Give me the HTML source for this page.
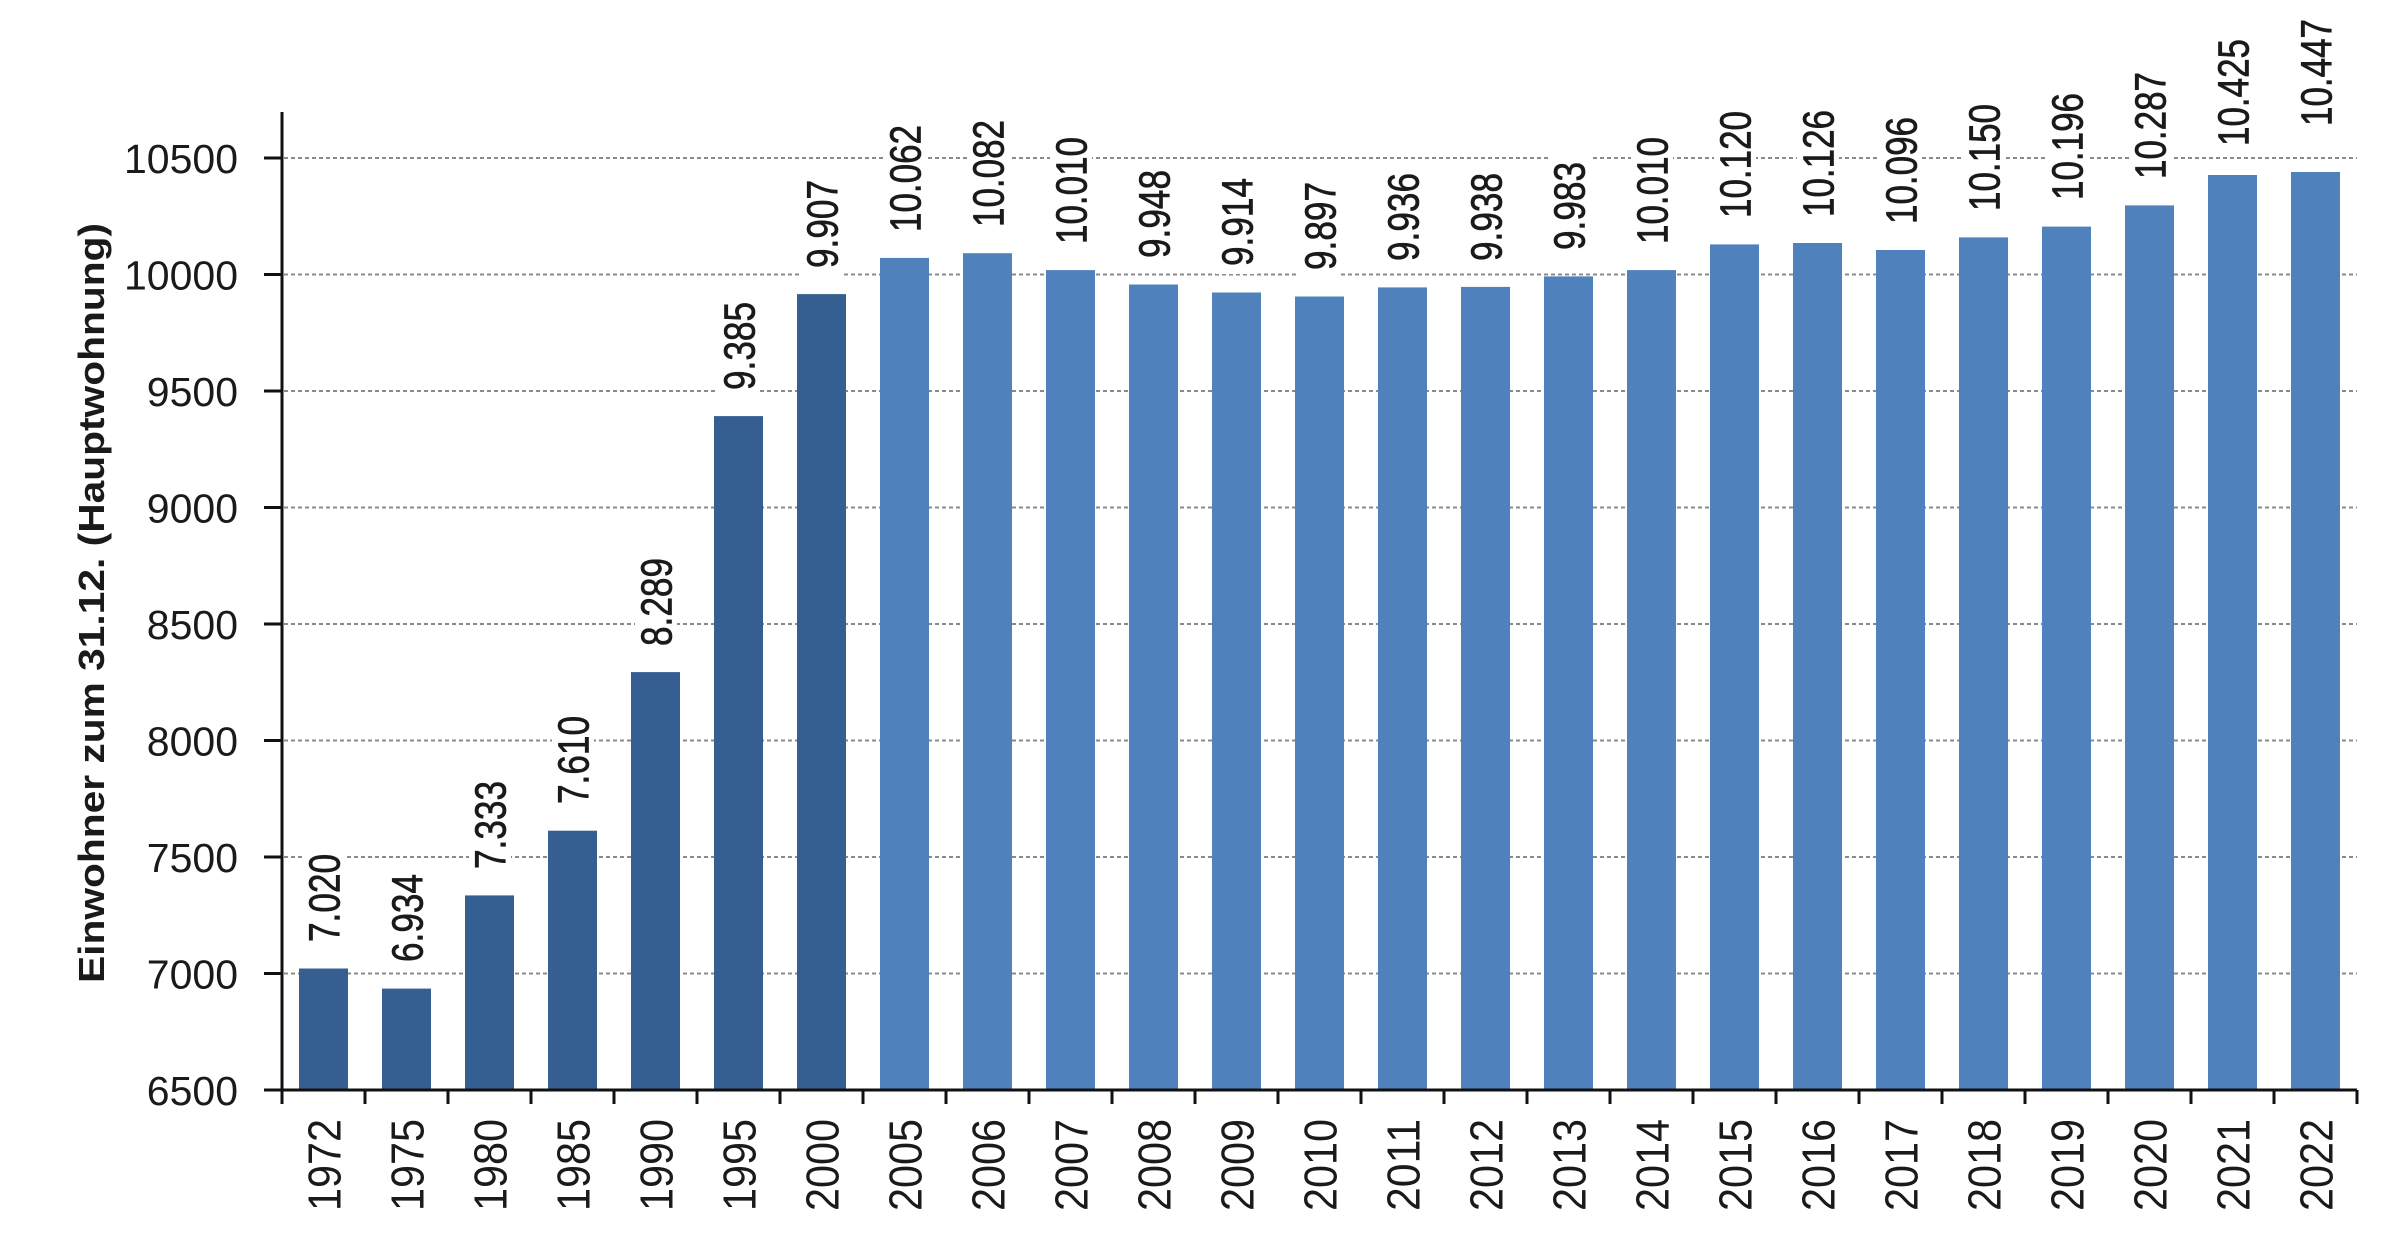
<!DOCTYPE html>
<html><head><meta charset="utf-8"><style>
html,body{margin:0;padding:0;background:#fff;}
svg{display:block;}
text{font-family:"Liberation Sans",Arial,sans-serif;fill:#1a1a1a;}
</style></head><body>
<svg width="2400" height="1244" viewBox="0 0 2400 1244" xmlns="http://www.w3.org/2000/svg">
<rect width="2400" height="1244" fill="#fff"/>
<g stroke="#8a8a8a" stroke-width="2" stroke-dasharray="4 3">
<line x1="284" y1="158" x2="2357" y2="158"/>
<line x1="284" y1="274.5" x2="2357" y2="274.5"/>
<line x1="284" y1="391" x2="2357" y2="391"/>
<line x1="284" y1="507.5" x2="2357" y2="507.5"/>
<line x1="284" y1="624" x2="2357" y2="624"/>
<line x1="284" y1="740.5" x2="2357" y2="740.5"/>
<line x1="284" y1="857" x2="2357" y2="857"/>
<line x1="284" y1="973.5" x2="2357" y2="973.5"/>
</g>
<g fill="#365f91">
<rect x="299" y="968.5" width="49" height="121.5"/>
<rect x="382" y="988.6" width="49" height="101.4"/>
<rect x="465" y="895.4" width="49" height="194.6"/>
<rect x="548" y="830.7" width="49" height="259.3"/>
<rect x="631" y="672.1" width="49" height="417.9"/>
<rect x="714" y="416.1" width="49" height="673.9"/>
<rect x="797" y="294.1" width="49" height="795.9"/>
</g>
<g fill="#4f81bd">
<rect x="880" y="257.9" width="49" height="832.1"/>
<rect x="963" y="253.2" width="49" height="836.8"/>
<rect x="1046" y="270.1" width="49" height="819.9"/>
<rect x="1129" y="284.5" width="49" height="805.5"/>
<rect x="1212" y="292.5" width="49" height="797.5"/>
<rect x="1295" y="296.5" width="49" height="793.5"/>
<rect x="1378" y="287.4" width="49" height="802.6"/>
<rect x="1461" y="286.9" width="49" height="803.1"/>
<rect x="1544" y="276.4" width="49" height="813.6"/>
<rect x="1627" y="270.1" width="49" height="819.9"/>
<rect x="1710" y="244.4" width="49" height="845.6"/>
<rect x="1793" y="243.0" width="49" height="847.0"/>
<rect x="1876" y="250.0" width="49" height="840.0"/>
<rect x="1959" y="237.4" width="49" height="852.6"/>
<rect x="2042" y="226.6" width="49" height="863.4"/>
<rect x="2125" y="205.4" width="49" height="884.6"/>
<rect x="2208" y="175" width="49" height="915"/>
<rect x="2291" y="172" width="49" height="918"/>
</g>
<g fill="#fff">
<rect x="303" y="846" width="42" height="104"/>
<rect x="386" y="866" width="42" height="104"/>
<rect x="469" y="773" width="42" height="104"/>
<rect x="552" y="708" width="42" height="104"/>
<rect x="635" y="550" width="42" height="104"/>
<rect x="718" y="294" width="42" height="104"/>
<rect x="801" y="172" width="42" height="104"/>
<rect x="884" y="116" width="42" height="124"/>
<rect x="967" y="111" width="42" height="124"/>
<rect x="1050" y="128" width="42" height="124"/>
<rect x="1133" y="162" width="42" height="104"/>
<rect x="1216" y="170" width="42" height="104"/>
<rect x="1299" y="174" width="42" height="104"/>
<rect x="1382" y="165" width="42" height="104"/>
<rect x="1465" y="165" width="42" height="104"/>
<rect x="1548" y="154" width="42" height="104"/>
<rect x="1631" y="128" width="42" height="124"/>
<rect x="1714" y="102" width="42" height="124"/>
<rect x="1797" y="101" width="42" height="124"/>
<rect x="1880" y="108" width="42" height="124"/>
<rect x="1963" y="95" width="42" height="124"/>
<rect x="2046" y="84" width="42" height="124"/>
<rect x="2129" y="63" width="42" height="124"/>
<rect x="2212" y="30" width="42" height="124"/>
<rect x="2295" y="10" width="42" height="124"/>
</g>
<g font-size="44" transform="translate(2,0)" stroke="#1a1a1a" stroke-width="0.7">
<text transform="translate(337.5,942) rotate(-90)" textLength="88" lengthAdjust="spacingAndGlyphs">7.020</text>
<text transform="translate(420.5,962) rotate(-90)" textLength="88" lengthAdjust="spacingAndGlyphs">6.934</text>
<text transform="translate(503.5,869) rotate(-90)" textLength="88" lengthAdjust="spacingAndGlyphs">7.333</text>
<text transform="translate(586.5,804) rotate(-90)" textLength="88" lengthAdjust="spacingAndGlyphs">7.610</text>
<text transform="translate(669.5,646) rotate(-90)" textLength="88" lengthAdjust="spacingAndGlyphs">8.289</text>
<text transform="translate(752.5,390) rotate(-90)" textLength="88" lengthAdjust="spacingAndGlyphs">9.385</text>
<text transform="translate(835.5,268) rotate(-90)" textLength="88" lengthAdjust="spacingAndGlyphs">9.907</text>
<text transform="translate(918.5,232) rotate(-90)" textLength="107" lengthAdjust="spacingAndGlyphs">10.062</text>
<text transform="translate(1001.5,227) rotate(-90)" textLength="107" lengthAdjust="spacingAndGlyphs">10.082</text>
<text transform="translate(1084.5,244) rotate(-90)" textLength="107" lengthAdjust="spacingAndGlyphs">10.010</text>
<text transform="translate(1167.5,258) rotate(-90)" textLength="88" lengthAdjust="spacingAndGlyphs">9.948</text>
<text transform="translate(1250.5,266) rotate(-90)" textLength="88" lengthAdjust="spacingAndGlyphs">9.914</text>
<text transform="translate(1333.5,270) rotate(-90)" textLength="88" lengthAdjust="spacingAndGlyphs">9.897</text>
<text transform="translate(1416.5,261) rotate(-90)" textLength="88" lengthAdjust="spacingAndGlyphs">9.936</text>
<text transform="translate(1499.5,261) rotate(-90)" textLength="88" lengthAdjust="spacingAndGlyphs">9.938</text>
<text transform="translate(1582.5,250) rotate(-90)" textLength="88" lengthAdjust="spacingAndGlyphs">9.983</text>
<text transform="translate(1665.5,244) rotate(-90)" textLength="107" lengthAdjust="spacingAndGlyphs">10.010</text>
<text transform="translate(1748.5,218) rotate(-90)" textLength="107" lengthAdjust="spacingAndGlyphs">10.120</text>
<text transform="translate(1831.5,217) rotate(-90)" textLength="107" lengthAdjust="spacingAndGlyphs">10.126</text>
<text transform="translate(1914.5,224) rotate(-90)" textLength="107" lengthAdjust="spacingAndGlyphs">10.096</text>
<text transform="translate(1997.5,211) rotate(-90)" textLength="107" lengthAdjust="spacingAndGlyphs">10.150</text>
<text transform="translate(2080.5,200) rotate(-90)" textLength="107" lengthAdjust="spacingAndGlyphs">10.196</text>
<text transform="translate(2163.5,179) rotate(-90)" textLength="107" lengthAdjust="spacingAndGlyphs">10.287</text>
<text transform="translate(2246.5,146) rotate(-90)" textLength="107" lengthAdjust="spacingAndGlyphs">10.425</text>
<text transform="translate(2329.5,126) rotate(-90)" textLength="107" lengthAdjust="spacingAndGlyphs">10.447</text>
</g>
<g stroke="#111" stroke-width="3" fill="none">
<line x1="282" y1="112" x2="282" y2="1092"/>
<line x1="264" y1="1090" x2="2357" y2="1090"/>
<line x1="264" y1="158" x2="282" y2="158"/>
<line x1="264" y1="274.5" x2="282" y2="274.5"/>
<line x1="264" y1="391" x2="282" y2="391"/>
<line x1="264" y1="507.5" x2="282" y2="507.5"/>
<line x1="264" y1="624" x2="282" y2="624"/>
<line x1="264" y1="740.5" x2="282" y2="740.5"/>
<line x1="264" y1="857" x2="282" y2="857"/>
<line x1="264" y1="973.5" x2="282" y2="973.5"/>
<path d="M282 1090v14M365 1090v14M448 1090v14M531 1090v14M614 1090v14M697 1090v14M780 1090v14M863 1090v14M946 1090v14M1029 1090v14M1112 1090v14M1195 1090v14M1278 1090v14M1361 1090v14M1444 1090v14M1527 1090v14M1610 1090v14M1693 1090v14M1776 1090v14M1859 1090v14M1942 1090v14M2025 1090v14M2108 1090v14M2191 1090v14M2274 1090v14M2357 1090v14"/>
</g>
<g font-size="41" text-anchor="end">
<text x="238" y="173">10500</text>
<text x="238" y="289.5">10000</text>
<text x="238" y="406">9500</text>
<text x="238" y="522.5">9000</text>
<text x="238" y="639">8500</text>
<text x="238" y="755.5">8000</text>
<text x="238" y="872">7500</text>
<text x="238" y="988.5">7000</text>
<text x="238" y="1105">6500</text>
</g>
<text transform="translate(104,603) rotate(-90)" font-size="36" font-weight="bold" text-anchor="middle" textLength="760" lengthAdjust="spacingAndGlyphs">Einwohner zum 31.12.  (Hauptwohnung)</text>
<g font-size="46" text-anchor="end">
<text transform="translate(340.5,1119) rotate(-90)" textLength="92" lengthAdjust="spacingAndGlyphs">1972</text>
<text transform="translate(423.5,1119) rotate(-90)" textLength="92" lengthAdjust="spacingAndGlyphs">1975</text>
<text transform="translate(506.5,1119) rotate(-90)" textLength="92" lengthAdjust="spacingAndGlyphs">1980</text>
<text transform="translate(589.5,1119) rotate(-90)" textLength="92" lengthAdjust="spacingAndGlyphs">1985</text>
<text transform="translate(672.5,1119) rotate(-90)" textLength="92" lengthAdjust="spacingAndGlyphs">1990</text>
<text transform="translate(755.5,1119) rotate(-90)" textLength="92" lengthAdjust="spacingAndGlyphs">1995</text>
<text transform="translate(838.5,1119) rotate(-90)" textLength="92" lengthAdjust="spacingAndGlyphs">2000</text>
<text transform="translate(921.5,1119) rotate(-90)" textLength="92" lengthAdjust="spacingAndGlyphs">2005</text>
<text transform="translate(1004.5,1119) rotate(-90)" textLength="92" lengthAdjust="spacingAndGlyphs">2006</text>
<text transform="translate(1087.5,1119) rotate(-90)" textLength="92" lengthAdjust="spacingAndGlyphs">2007</text>
<text transform="translate(1170.5,1119) rotate(-90)" textLength="92" lengthAdjust="spacingAndGlyphs">2008</text>
<text transform="translate(1253.5,1119) rotate(-90)" textLength="92" lengthAdjust="spacingAndGlyphs">2009</text>
<text transform="translate(1336.5,1119) rotate(-90)" textLength="92" lengthAdjust="spacingAndGlyphs">2010</text>
<text transform="translate(1419.5,1119) rotate(-90)" textLength="92" lengthAdjust="spacingAndGlyphs">2011</text>
<text transform="translate(1502.5,1119) rotate(-90)" textLength="92" lengthAdjust="spacingAndGlyphs">2012</text>
<text transform="translate(1585.5,1119) rotate(-90)" textLength="92" lengthAdjust="spacingAndGlyphs">2013</text>
<text transform="translate(1668.5,1119) rotate(-90)" textLength="92" lengthAdjust="spacingAndGlyphs">2014</text>
<text transform="translate(1751.5,1119) rotate(-90)" textLength="92" lengthAdjust="spacingAndGlyphs">2015</text>
<text transform="translate(1834.5,1119) rotate(-90)" textLength="92" lengthAdjust="spacingAndGlyphs">2016</text>
<text transform="translate(1917.5,1119) rotate(-90)" textLength="92" lengthAdjust="spacingAndGlyphs">2017</text>
<text transform="translate(2000.5,1119) rotate(-90)" textLength="92" lengthAdjust="spacingAndGlyphs">2018</text>
<text transform="translate(2083.5,1119) rotate(-90)" textLength="92" lengthAdjust="spacingAndGlyphs">2019</text>
<text transform="translate(2166.5,1119) rotate(-90)" textLength="92" lengthAdjust="spacingAndGlyphs">2020</text>
<text transform="translate(2249.5,1119) rotate(-90)" textLength="92" lengthAdjust="spacingAndGlyphs">2021</text>
<text transform="translate(2332.5,1119) rotate(-90)" textLength="92" lengthAdjust="spacingAndGlyphs">2022</text>
</g>
</svg>
</body></html>
